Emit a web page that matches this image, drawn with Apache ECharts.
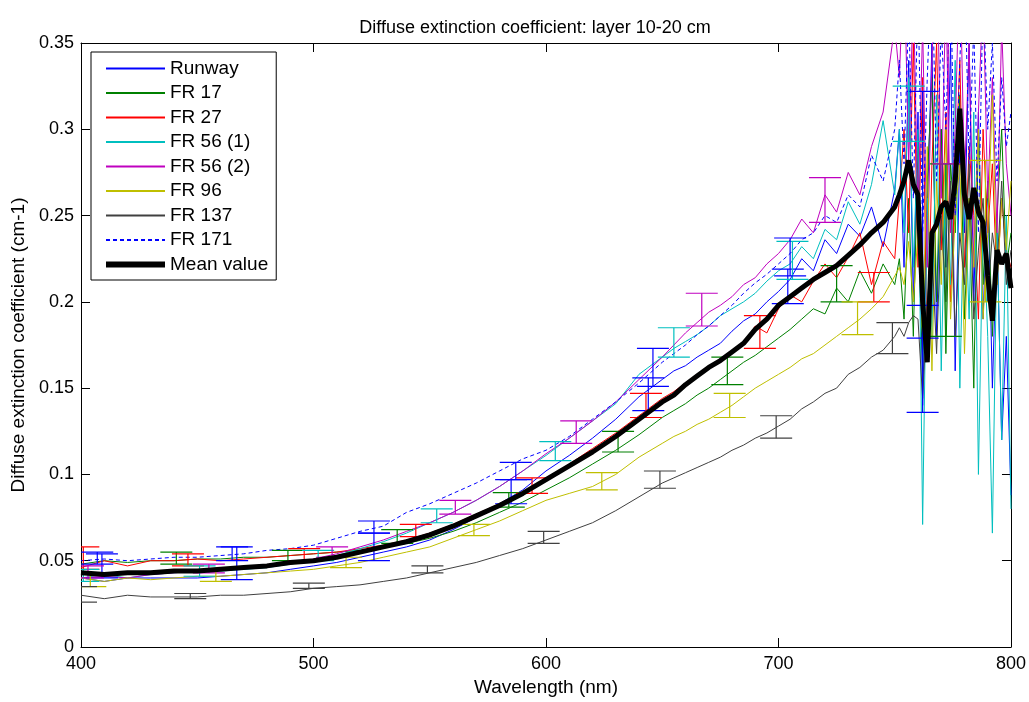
<!DOCTYPE html>
<html>
<head>
<meta charset="utf-8">
<script src="https://cdn.jsdelivr.net/npm/echarts@6/dist/echarts.min.js"></script>
<style>
  html, body { margin: 0; padding: 0; background: #fff; }
  #chart { width: 1029px; height: 702px; }
</style>
</head>
<body>
<div id="chart"></div>
<script>
// wavelength grid (nm): coarse in the smooth part, finer where the spectra get noisy
const wavelengths = [
  400, 410, 420, 430, 440, 450, 460, 470, 480, 490, 500, 510, 520, 530, 540, 550, 560, 570, 580, 590, 600, 610, 620, 630, 640, 650,
  655, 660, 665, 670, 675, 680, 685, 690, 695, 700, 705, 710, 715, 720, 725, 730, 735, 740, 745, 750,
  752, 754, 756, 758, 760, 762, 764, 766, 768, 770, 772, 774, 776, 778, 780, 782, 784, 786, 788, 790, 792, 794, 796, 798, 800
]

const runway = [
  0.040, 0.038, 0.040, 0.040, 0.040, 0.040, 0.041, 0.042, 0.043, 0.045, 0.047, 0.049, 0.052, 0.055, 0.058, 0.062, 0.068, 0.075, 0.083, 0.091, 0.102, 0.111, 0.121, 0.132, 0.145, 0.155,
  0.160, 0.163, 0.168, 0.172, 0.176, 0.183, 0.189, 0.193, 0.200, 0.206, 0.213, 0.225, 0.218, 0.236, 0.228, 0.245, 0.238, 0.255, 0.232, 0.265,
  0.300, 0.220, 0.340, 0.200, 0.310, 0.140, 0.250, 0.350, 0.180, 0.300, 0.220, 0.350, 0.160, 0.290, 0.240, 0.350, 0.200, 0.310, 0.190, 0.270, 0.150, 0.240, 0.120, 0.180, 0.088
]
const fr17 = [
  0.048, 0.050, 0.049, 0.050, 0.050, 0.051, 0.051, 0.052, 0.052, 0.053, 0.054, 0.055, 0.056, 0.058, 0.060, 0.063, 0.067, 0.072, 0.078, 0.084, 0.091, 0.098, 0.106, 0.114, 0.123, 0.133,
  0.137, 0.141, 0.146, 0.150, 0.155, 0.160, 0.165, 0.169, 0.174, 0.179, 0.184, 0.190, 0.196, 0.193, 0.208, 0.200, 0.218, 0.205, 0.222, 0.210,
  0.225, 0.190, 0.260, 0.180, 0.290, 0.160, 0.270, 0.330, 0.200, 0.300, 0.170, 0.280, 0.240, 0.320, 0.190, 0.260, 0.150, 0.300, 0.210, 0.270, 0.180, 0.250, 0.300, 0.220, 0.240
]
const fr27 = [
  0.046, 0.050, 0.047, 0.050, 0.050, 0.051, 0.050, 0.051, 0.052, 0.053, 0.054, 0.055, 0.057, 0.059, 0.062, 0.066, 0.071, 0.077, 0.083, 0.090, 0.097, 0.106, 0.115, 0.124, 0.134, 0.144,
  0.148, 0.153, 0.158, 0.162, 0.167, 0.171, 0.176, 0.186, 0.182, 0.196, 0.204, 0.200, 0.212, 0.222, 0.214, 0.226, 0.240, 0.210, 0.235, 0.225,
  0.260, 0.300, 0.240, 0.350, 0.220, 0.330, 0.170, 0.280, 0.350, 0.230, 0.310, 0.200, 0.270, 0.340, 0.220, 0.290, 0.250, 0.190, 0.300, 0.240, 0.280, 0.210, 0.260, 0.230, 0.220
]
const fr56a = [
  0.040, 0.042, 0.040, 0.042, 0.043, 0.044, 0.044, 0.045, 0.046, 0.048, 0.050, 0.053, 0.057, 0.061, 0.066, 0.072, 0.078, 0.085, 0.093, 0.102, 0.111, 0.121, 0.131, 0.141, 0.158, 0.168,
  0.173, 0.177, 0.181, 0.186, 0.192, 0.196, 0.200, 0.205, 0.212, 0.218, 0.222, 0.232, 0.225, 0.242, 0.236, 0.258, 0.245, 0.268, 0.305, 0.262,
  0.300, 0.240, 0.330, 0.220, 0.300, 0.071, 0.260, 0.180, 0.320, 0.160, 0.280, 0.210, 0.340, 0.150, 0.270, 0.190, 0.310, 0.100, 0.250, 0.180, 0.066, 0.240, 0.120, 0.250, 0.080
]
const fr56b = [
  0.040, 0.041, 0.040, 0.042, 0.043, 0.044, 0.045, 0.046, 0.047, 0.048, 0.051, 0.054, 0.058, 0.062, 0.067, 0.072, 0.078, 0.085, 0.093, 0.102, 0.112, 0.121, 0.131, 0.142, 0.155, 0.168,
  0.175, 0.182, 0.188, 0.194, 0.198, 0.203, 0.210, 0.214, 0.222, 0.228, 0.236, 0.248, 0.240, 0.262, 0.252, 0.275, 0.262, 0.290, 0.310, 0.360,
  0.330, 0.400, 0.280, 0.380, 0.250, 0.360, 0.220, 0.340, 0.420, 0.260, 0.380, 0.240, 0.300, 0.400, 0.270, 0.350, 0.220, 0.310, 0.380, 0.260, 0.330, 0.240, 0.360, 0.280, 0.250
]
const fr96 = [
  0.040, 0.038, 0.040, 0.039, 0.040, 0.041, 0.041, 0.042, 0.043, 0.044, 0.045, 0.047, 0.049, 0.052, 0.055, 0.058, 0.063, 0.068, 0.073, 0.079, 0.085, 0.089, 0.093, 0.100, 0.110, 0.118,
  0.122, 0.125, 0.129, 0.132, 0.136, 0.140, 0.145, 0.150, 0.154, 0.158, 0.162, 0.167, 0.170, 0.175, 0.180, 0.185, 0.190, 0.196, 0.203, 0.215,
  0.220, 0.210, 0.235, 0.200, 0.240, 0.180, 0.290, 0.160, 0.270, 0.210, 0.300, 0.190, 0.250, 0.280, 0.170, 0.260, 0.220, 0.300, 0.190, 0.240, 0.320, 0.210, 0.260, 0.230, 0.270
]
const fr137 = [
  0.030, 0.028, 0.030, 0.029, 0.029, 0.029, 0.030, 0.030, 0.031, 0.032, 0.034, 0.035, 0.036, 0.038, 0.040, 0.043, 0.046, 0.049, 0.053, 0.057, 0.062, 0.067, 0.072, 0.079, 0.087, 0.095,
  0.098, 0.101, 0.104, 0.107, 0.110, 0.114, 0.117, 0.121, 0.124, 0.128, 0.132, 0.138, 0.142, 0.147, 0.150, 0.158, 0.162, 0.168, 0.172, 0.180,
  0.185, 0.180, 0.188, 0.192, 0.190, 0.144, 0.200, 0.230, 0.170, 0.250, 0.200, 0.270, 0.180, 0.240, 0.210, 0.280, 0.190, 0.230, 0.260, 0.200, 0.240, 0.220, 0.270, 0.210, 0.230
]
const fr171 = [
  0.050, 0.051, 0.050, 0.051, 0.052, 0.052, 0.053, 0.054, 0.056, 0.057, 0.059, 0.063, 0.067, 0.070, 0.078, 0.083, 0.089, 0.095, 0.102, 0.109, 0.114, 0.122, 0.132, 0.142, 0.153, 0.165,
  0.170, 0.175, 0.181, 0.186, 0.192, 0.198, 0.205, 0.211, 0.216, 0.222, 0.228, 0.236, 0.240, 0.250, 0.246, 0.262, 0.255, 0.285, 0.270, 0.300,
  0.340, 0.280, 0.370, 0.260, 0.380, 0.240, 0.330, 0.400, 0.270, 0.360, 0.300, 0.390, 0.250, 0.340, 0.400, 0.280, 0.360, 0.240, 0.380, 0.300, 0.350, 0.270, 0.330, 0.290, 0.310
]
const meanValue = [
  0.043, 0.042, 0.043, 0.043, 0.044, 0.044, 0.045, 0.046, 0.047, 0.049, 0.050, 0.052, 0.055, 0.058, 0.061, 0.065, 0.070, 0.076, 0.082, 0.089, 0.097, 0.105, 0.113, 0.122, 0.132, 0.142,
  0.146, 0.152, 0.157, 0.162, 0.166, 0.171, 0.176, 0.184, 0.190, 0.198, 0.203, 0.208, 0.213, 0.217, 0.221, 0.227, 0.233, 0.240, 0.246, 0.255,
  0.262, 0.270, 0.282, 0.268, 0.262, 0.200, 0.165, 0.240, 0.245, 0.255, 0.258, 0.248, 0.270, 0.312, 0.262, 0.248, 0.266, 0.252, 0.246, 0.215, 0.189, 0.230, 0.222, 0.228, 0.208
]

// error bars: [wavelength, low, high]
const errRunway = [[409, 0.040, 0.054], [467, 0.039, 0.058], [526, 0.050, 0.066], [585, 0.083, 0.097], [644, 0.137, 0.156], [704, 0.199, 0.219], [762, 0.136, 0.322]]
const err17 = [[441, 0.048, 0.055], [489, 0.050, 0.056], [536, 0.060, 0.068], [584, 0.081, 0.0895], [631, 0.113, 0.125], [678, 0.152, 0.168], [725, 0.200, 0.221], [772, 0.180, 0.280]]
const err27 = [[401, 0.045, 0.058], [446, 0.047, 0.054], [496, 0.050, 0.057], [544, 0.064, 0.071], [594, 0.089, 0.098], [643, 0.133, 0.147], [692, 0.173, 0.192], [741, 0.200, 0.217]]
const err56a = [[401, 0.038, 0.045], [451, 0.041, 0.047], [502, 0.050, 0.056], [553, 0.072, 0.080], [604, 0.108, 0.119], [655, 0.168, 0.185], [706, 0.213, 0.235], [756, 0.293, 0.325]]
const err56b = [[403, 0.040, 0.047], [455, 0.043, 0.048], [508, 0.052, 0.058], [561, 0.077, 0.085], [613, 0.118, 0.131], [667, 0.186, 0.205], [720, 0.246, 0.272], [773, 0.280, 0.380]]
const err96 = [[404, 0.035, 0.042], [458, 0.038, 0.045], [514, 0.046, 0.052], [569, 0.0645, 0.071], [624, 0.091, 0.101], [679, 0.133, 0.147], [734, 0.181, 0.200], [789, 0.200, 0.282]]
const err137 = [[400, 0.026, 0.035], [447, 0.028, 0.031], [498, 0.034, 0.037], [549, 0.043, 0.047], [599, 0.060, 0.067], [649, 0.092, 0.102], [699, 0.121, 0.134], [749, 0.170, 0.188]]
const err171 = [[407, 0.048, 0.055], [465, 0.050, 0.058], [526, 0.066, 0.073], [587, 0.097, 0.107], [646, 0.151, 0.173], [705, 0.215, 0.237], [762, 0.179, 0.198]]

const font = 'Liberation Sans, Arial, Helvetica, sans-serif'

const lines = [
  {name: 'Runway', data: runway, err: errRunway, color: '#0000ff'},
  {name: 'FR 17', data: fr17, err: err17, color: '#008000'},
  {name: 'FR 27', data: fr27, err: err27, color: '#ff0000'},
  {name: 'FR 56 (1)', data: fr56a, err: err56a, color: '#00bfbf'},
  {name: 'FR 56 (2)', data: fr56b, err: err56b, color: '#bf00bf'},
  {name: 'FR 96', data: fr96, err: err96, color: '#bfbf00'},
  {name: 'FR 137', data: fr137, err: err137, color: '#404040'},
  {name: 'FR 171', data: fr171, err: err171, color: '#0000ff', dashed: true}
]

const pairs = arr => wavelengths.map((w, i) => [w, arr[i]])

const errorBars = (color) => (params, api) => {
  const x = api.value(0)
  const top = api.coord([x, api.value(2)])
  const bot = api.coord([x, api.value(1)])
  const hw = 16
  const style = {stroke: color, lineWidth: 1.2}
  return {
    type: 'group',
    children: [
      {type: 'line', shape: {x1: top[0], y1: top[1], x2: bot[0], y2: bot[1]}, style},
      {type: 'line', shape: {x1: top[0] - hw, y1: top[1], x2: top[0] + hw, y2: top[1]}, style},
      {type: 'line', shape: {x1: bot[0] - hw, y1: bot[1], x2: bot[0] + hw, y2: bot[1]}, style}
    ]
  }
}

const series = []
lines.forEach(l => {
  series.push({
    name: l.name,
    type: 'line',
    data: pairs(l.data),
    symbol: 'none',
    color: l.color,
    lineStyle: {color: l.color, width: 1, type: l.dashed ? [4, 3] : 'solid'},
    z: 2
  })
})
lines.forEach(l => {
  series.push({
    name: l.name + ' err',
    type: 'custom',
    data: l.err,
    encode: {x: 0, y: [1, 2]},
    renderItem: errorBars(l.color),
    clip: true,
    z: 3
  })
})
series.push({
  name: 'Mean value',
  type: 'line',
  data: pairs(meanValue),
  symbol: 'none',
  color: '#000',
  lineStyle: {color: '#000', width: 5},
  z: 4
})

const axisText = {fontFamily: font, fontSize: 18, color: '#000'}
const nameText = {fontFamily: font, fontSize: 19, color: '#000'}

const legendData = lines.map(l => ({name: l.name}))
legendData.push({name: 'Mean value', lineStyle: {width: 6}})

const chart = echarts.init(document.getElementById('chart'))
chart.setOption({
  animation: false,
  backgroundColor: '#fff',
  title: {
    text: 'Diffuse extinction coefficient: layer 10-20 cm',
    left: 530,
    textAlign: 'center',
    top: 14,
    textStyle: {fontFamily: font, fontSize: 18, fontWeight: 'normal', color: '#000'}
  },
  legend: {
    data: legendData,
    orient: 'vertical',
    left: 91,
    top: 52,
    padding: [7, 8, 6, 12],
    itemWidth: 59,
    itemHeight: 14,
    itemGap: 5.5,
    backgroundColor: '#fff',
    borderColor: '#000',
    borderWidth: 1,
    itemStyle: {opacity: 0},
    textStyle: {fontFamily: font, fontSize: 19, color: '#000'},
    selectedMode: false
  },
  grid: {left: 81, right: 18, top: 43, bottom: 52, containLabel: false, show: false},
  xAxis: [
    {
      type: 'value', min: 400, max: 800, interval: 100,
      name: 'Wavelength (nm)', nameLocation: 'middle', nameGap: 31,
      nameTextStyle: nameText,
      axisLine: {show: true, onZero: false, lineStyle: {color: '#000', width: 1}},
      axisTick: {inside: true, length: 9, lineStyle: {color: '#000'}},
      axisLabel: Object.assign({margin: 8}, axisText),
      splitLine: {show: false}
    },
    {
      type: 'value', min: 400, max: 800, interval: 100, position: 'top',
      axisLine: {show: true, onZero: false, lineStyle: {color: '#000', width: 1}},
      axisTick: {inside: true, length: 9, lineStyle: {color: '#000'}},
      axisLabel: {show: false},
      splitLine: {show: false}
    }
  ],
  yAxis: [
    {
      type: 'value', min: 0, max: 0.35, interval: 0.05,
      name: 'Diffuse extinction coefficient (cm-1)', nameLocation: 'middle', nameGap: 51,
      nameTextStyle: nameText,
      axisLine: {show: true, onZero: false, lineStyle: {color: '#000', width: 1}},
      axisTick: {inside: true, length: 9, lineStyle: {color: '#000'}},
      axisLabel: Object.assign({margin: 7, formatter: v => (v === 0 ? '0' : String(+v.toFixed(2)))}, axisText),
      splitLine: {show: false}
    },
    {
      type: 'value', min: 0, max: 0.35, interval: 0.05, position: 'right',
      axisLine: {show: true, onZero: false, lineStyle: {color: '#000', width: 1}},
      axisTick: {inside: true, length: 9, lineStyle: {color: '#000'}},
      axisLabel: {show: false},
      splitLine: {show: false}
    }
  ],
  series
})
</script>
</body>
</html>
